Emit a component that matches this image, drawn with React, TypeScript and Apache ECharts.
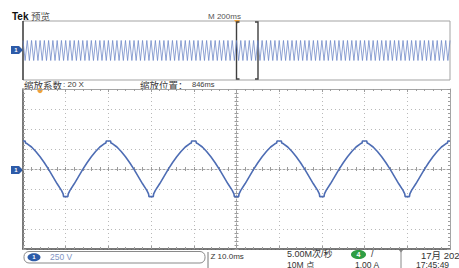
import React, { useEffect, useRef } from "react";
import * as echarts from "echarts";

// ---- scales (oscilloscope: 10 ms/div, 250 V/div) ----
const TIME_MIN = -50;
const TIME_MAX = 50;
const TIME_STEP = 10;
const VOLT_MIN = -1000;
const VOLT_MAX = 1000;
const VOLT_STEP = 250;

// ---- zoomed waveform: [time ms (relative to screen centre), volts] ----
const mainWave: [number, number][] = [
  [-50, 350], [-49.5, 350], [-49.4, 325], [-49, 315], [-48, 275], [-47, 218], [-46, 152], [-45, 78], [-44, -5], [-43, -95], [-42, -185], [-41, -268], [-40.6, -312], [-40.5, -345], [-39.5, -345], [-39.4, -312], [-39, -268], [-38, -185], [-37, -95], [-36, -5], [-35, 78], [-34, 152], [-33, 218], [-32, 275], [-31, 315], [-30.6, 325], [-30.5, 350],
  [-29.5, 350], [-29.4, 325], [-29, 315], [-28, 275], [-27, 218], [-26, 152], [-25, 78], [-24, -5], [-23, -95], [-22, -185], [-21, -268], [-20.6, -312], [-20.5, -345], [-19.5, -345], [-19.4, -312], [-19, -268], [-18, -185], [-17, -95], [-16, -5], [-15, 78], [-14, 152], [-13, 218], [-12, 275], [-11, 315], [-10.6, 325], [-10.5, 350],
  [-9.5, 350], [-9.4, 325], [-9, 315], [-8, 275], [-7, 218], [-6, 152], [-5, 78], [-4, -5], [-3, -95], [-2, -185], [-1, -268], [-0.6, -312], [-0.5, -345], [0.5, -345], [0.6, -312], [1, -268], [2, -185], [3, -95], [4, -5], [5, 78], [6, 152], [7, 218], [8, 275], [9, 315], [9.4, 325], [9.5, 350],
  [10.5, 350], [10.6, 325], [11, 315], [12, 275], [13, 218], [14, 152], [15, 78], [16, -5], [17, -95], [18, -185], [19, -268], [19.4, -312], [19.5, -345], [20.5, -345], [20.6, -312], [21, -268], [22, -185], [23, -95], [24, -5], [25, 78], [26, 152], [27, 218], [28, 275], [29, 315], [29.4, 325], [29.5, 350],
  [30.5, 350], [30.6, 325], [31, 315], [32, 275], [33, 218], [34, 152], [35, 78], [36, -5], [37, -95], [38, -185], [39, -268], [39.4, -312], [39.5, -345], [40.5, -345], [40.6, -312], [41, -268], [42, -185], [43, -95], [44, -5], [45, 78], [46, 152], [47, 218], [48, 275], [49, 315], [49.4, 325], [49.5, 350], [50, 350],
];

// ---- overview record (200 ms/div, 2 s): one extreme every 10 ms ----
const OVERVIEW_STEP_MS = 10;
const OVERVIEW_MAX_MS = 2000;
const overviewVolts: number[] = [
  340, -340, 340, -340, 340, -340, 340, -340, 340, -340, 340, -340, 340, -340, 340, -340, 340, -340, 340, -340,
  340, -340, 340, -340, 340, -340, 340, -340, 340, -340, 340, -340, 340, -340, 340, -340, 340, -340, 340, -340,
  340, -340, 340, -340, 340, -340, 340, -340, 340, -340, 340, -340, 340, -340, 340, -340, 340, -340, 340, -340,
  340, -340, 340, -340, 340, -340, 340, -340, 340, -340, 340, -340, 340, -340, 340, -340, 340, -340, 340, -340,
  340, -340, 340, -340, 340, -340, 340, -340, 340, -340, 340, -340, 340, -340, 340, -340, 340, -340, 340, -340,
  340, -340, 340, -340, 340, -340, 340, -340, 340, -340, 340, -340, 340, -340, 340, -340, 340, -340, 340, -340,
  340, -340, 340, -340, 340, -340, 340, -340, 340, -340, 340, -340, 340, -340, 340, -340, 340, -340, 340, -340,
  340, -340, 340, -340, 340, -340, 340, -340, 340, -340, 340, -340, 340, -340, 340, -340, 340, -340, 340, -340,
  340, -340, 340, -340, 340, -340, 340, -340, 340, -340, 340, -340, 340, -340, 340, -340, 340, -340, 340, -340,
  340, -340, 340, -340, 340, -340, 340, -340, 340, -340, 340, -340, 340, -340, 340, -340, 340, -340, 340, -340,
  340,
];

// ---- texts ----
const brandText = "Tek";
const modeText = "预览";
const overviewScaleText = "M 200ms";
const zoomFactorLabel = "缩放系数";
const zoomFactorValue = ": 20 X";
const zoomPosLabel = "缩放位置";
const zoomPosValue = "846ms";
const ch1Scale = "250 V";
const timeScale = "Z 10.0ms";
const sampleRate = "5.00M次/秒";
const recordLen = "10M 点";
const trigLevel = "1.00 A";
const dateText = "17月 202";
const timeText = "17:45:49";

const FONT = '"Liberation Sans", "Noto Sans CJK SC", sans-serif';
const CJK = '"Noto Sans CJK SC", "Liberation Sans", sans-serif';
const DOT: number[] = [1, 3];
const GRID_DOT = "#b9b9b9";
const TICK = "#9c9c9c";
const CH1_BLUE = "#2d5ba8";
const WAVE_BLUE = "#4e6db4";

function txt(x: number, y: number, text: string, size: number, color: string, extra: any = {}) {
  return {
    type: "text",
    x,
    y,
    silent: true,
    style: {
      text,
      fill: color,
      fontSize: size,
      fontFamily: extra.family || FONT,
      fontWeight: extra.weight || "normal",
      align: extra.align || "left",
      textAlign: extra.align || "left",
      verticalAlign: "middle",
      textVerticalAlign: "middle",
    },
  };
}

function chMarker(cy: number) {
  return [
    {
      type: "polygon",
      silent: true,
      shape: { points: [[11, cy - 4], [19, cy - 4], [23, cy], [19, cy + 4], [11, cy + 4]] },
      style: { fill: CH1_BLUE },
    },
    txt(16, cy, "1", 6, "#fff", { align: "center", weight: "bold" }),
  ];
}

function edgeAxis(kind: "x" | "y", position: string, color: string, width: number, split: boolean) {
  const isX = kind === "x";
  return {
    gridIndex: 0,
    type: "value",
    min: isX ? TIME_MIN : VOLT_MIN,
    max: isX ? TIME_MAX : VOLT_MAX,
    interval: isX ? TIME_STEP : VOLT_STEP,
    position,
    axisLine: { show: true, onZero: false, lineStyle: { color, width } },
    axisTick: { show: true, inside: true, length: 3, lineStyle: { color: TICK } },
    minorTick: { show: true, splitNumber: 5, length: 2, lineStyle: { color: TICK } },
    axisLabel: { show: false },
    splitLine: { show: split, lineStyle: { color: GRID_DOT, type: DOT, width: 1 } },
    minorSplitLine: { show: false },
  };
}

function centreAxis(kind: "x" | "y", position: string, showLine: boolean) {
  const isX = kind === "x";
  return {
    gridIndex: 0,
    type: "value",
    min: isX ? TIME_MIN : VOLT_MIN,
    max: isX ? TIME_MAX : VOLT_MAX,
    interval: isX ? TIME_STEP : VOLT_STEP,
    position,
    axisLine: {
      show: showLine,
      onZero: true,
      onZeroAxisIndex: 0,
      lineStyle: { color: "#a3a3a3", width: 1, type: [2, 2] },
    },
    axisTick: { show: true, inside: false, length: 2, lineStyle: { color: TICK } },
    minorTick: { show: true, splitNumber: 5, length: 2, lineStyle: { color: TICK } },
    axisLabel: { show: false },
    splitLine: { show: false },
  };
}

export default function App() {
  const ref = useRef<HTMLDivElement>(null);

  useEffect(() => {
    if (!ref.current) return;
    const chart = echarts.init(ref.current, null, { renderer: "svg" });

    const overviewData = overviewVolts.map((v, i) => [i * OVERVIEW_STEP_MS, v]);

    const graphic: any[] = [
      txt(12, 16, brandText, 10, "#111", { weight: "bold" }),
      txt(31, 16, modeText, 9.5, "#555", { family: CJK }),
      txt(208, 16, overviewScaleText, 8, "#555"),
      {
        type: "line",
        silent: true,
        shape: { x1: 23, y1: 21, x2: 23, y2: 80 },
        style: { stroke: "#222", lineWidth: 1.2 },
      },
      {
        type: "polygon",
        silent: true,
        shape: { points: [[234, 20], [240, 20], [237, 24]] },
        style: { fill: "#f0a23a" },
      },
      {
        type: "polyline",
        silent: true,
        shape: { points: [[239.5, 22], [236.5, 22], [236.5, 79], [239.5, 79]] },
        style: { stroke: "#3f3f3f", lineWidth: 1.4, fill: null },
      },
      {
        type: "polyline",
        silent: true,
        shape: { points: [[255, 22], [258, 22], [258, 79], [255, 79]] },
        style: { stroke: "#3f3f3f", lineWidth: 1.4, fill: null },
      },
      ...chMarker(50),
      txt(24, 84.5, zoomFactorLabel, 9.5, "#3a3a3a", { family: CJK }),
      txt(63, 84.5, zoomFactorValue, 8, "#3a3a3a"),
      txt(140, 84.5, zoomPosLabel, 9.5, "#3a3a3a", { family: CJK }),
      txt(178, 84.5, "：", 9.5, "#3a3a3a", { family: CJK }),
      txt(192, 84.5, zoomPosValue, 7.5, "#3a3a3a"),
      {
        type: "circle",
        silent: true,
        shape: { cx: 40, cy: 90.5, r: 2.6 },
        style: { fill: "#f0a23a" },
      },
      ...chMarker(170),
      {
        type: "rect",
        silent: true,
        shape: { x: 24, y: 251.5, width: 181, height: 11.5, r: 5 },
        style: { stroke: "#8a8a8a", lineWidth: 1, fill: null },
      },
      {
        type: "ellipse",
        silent: true,
        shape: { cx: 34, cy: 257.3, rx: 6.5, ry: 4 },
        style: { fill: CH1_BLUE },
      },
      txt(34, 257.3, "1", 6, "#fff", { align: "center", weight: "bold" }),
      txt(50, 257.3, ch1Scale, 8.5, "#7f95c4"),
      {
        type: "line",
        silent: true,
        shape: { x1: 208, y1: 252, x2: 208, y2: 268 },
        style: { stroke: "#777", lineWidth: 1 },
      },
      txt(210.5, 256.5, timeScale, 8, "#333"),
      txt(287, 254, sampleRate, 9, "#333"),
      txt(287, 264.5, recordLen, 8.5, "#333"),
      {
        type: "ellipse",
        silent: true,
        shape: { cx: 358.5, cy: 254.5, rx: 7.5, ry: 4.5 },
        style: { fill: "#2f9e44" },
      },
      txt(358.5, 254.5, "4", 7, "#fff", { align: "center", weight: "bold" }),
      txt(371, 254, "/", 9, "#333"),
      txt(355, 264.5, trigLevel, 8.5, "#333"),
      {
        type: "line",
        silent: true,
        shape: { x1: 401, y1: 250, x2: 401, y2: 268 },
        style: { stroke: "#888", lineWidth: 1 },
      },
      {
        type: "polygon",
        silent: true,
        shape: { points: [[398.5, 249.5], [403.5, 249.5], [401, 252.5]] },
        style: { fill: "#888" },
      },
      txt(421, 255, dateText, 9.5, "#333"),
      txt(416, 264.5, timeText, 8.5, "#333"),
    ];

    chart.setOption({
      animation: false,
      backgroundColor: "#ffffff",
      textStyle: { fontFamily: FONT },
      grid: [
        { left: 23, top: 89, width: 427, height: 160, show: false },
        {
          left: 23,
          top: 21,
          width: 427,
          height: 59,
          show: true,
          borderColor: "#a3a3a3",
          borderWidth: 1,
          backgroundColor: "transparent",
        },
      ],
      xAxis: [
        edgeAxis("x", "bottom", "#4d4d4d", 1.5, true),
        edgeAxis("x", "top", "#a5a5a5", 1, false),
        centreAxis("x", "bottom", true),
        centreAxis("x", "top", false),
        { gridIndex: 1, type: "value", min: 0, max: OVERVIEW_MAX_MS, show: false, splitLine: { show: false } },
      ],
      yAxis: [
        edgeAxis("y", "left", "#4d4d4d", 1.5, true),
        edgeAxis("y", "right", "#a5a5a5", 1, false),
        centreAxis("y", "left", true),
        centreAxis("y", "right", false),
        { gridIndex: 1, type: "value", min: VOLT_MIN, max: VOLT_MAX, show: false, splitLine: { show: false } },
      ],
      series: [
        {
          type: "line",
          xAxisIndex: 0,
          yAxisIndex: 0,
          data: mainWave,
          symbol: "none",
          showSymbol: false,
          silent: true,
          z: 5,
          lineStyle: { color: WAVE_BLUE, width: 1.6 },
        },
        {
          type: "line",
          xAxisIndex: 4,
          yAxisIndex: 4,
          data: overviewData,
          symbol: "none",
          showSymbol: false,
          silent: true,
          lineStyle: { color: "#6a84c6", width: 0.75 },
        },
      ],
      graphic,
    });

    return () => chart.dispose();
  }, []);

  return (
    <div
      ref={ref}
      style={{ position: "fixed", left: 0, top: 0, width: 459, height: 268, background: "#fff" }}
    />
  );
}
